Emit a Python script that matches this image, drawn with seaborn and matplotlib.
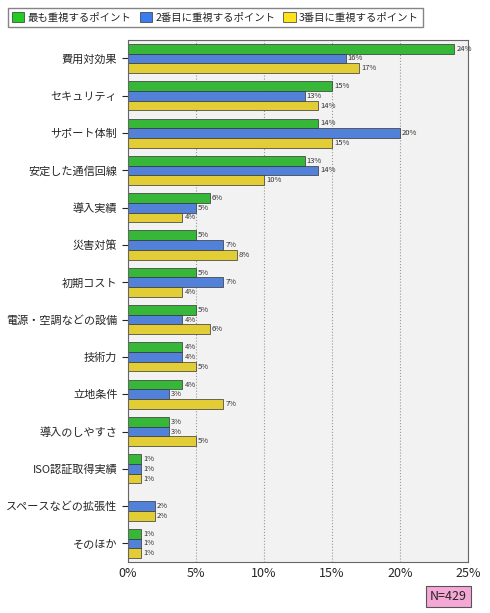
import pandas as pd
import matplotlib.pyplot as plt
import seaborn as sns
from matplotlib.patches import Patch

categories = ["費用対効果", "セキュリティ", "サポート体制", "安定した通信回線", "導入実績",
              "災害対策", "初期コスト", "電源・空調などの設備", "技術力", "立地条件",
              "導入のしやすさ", "ISO認証取得実績", "スペースなどの拡張性", "そのほか"]
first = [24, 15, 14, 13, 6, 5, 5, 5, 4, 4, 3, 1, 0, 1]
second = [16, 13, 20, 14, 5, 7, 7, 4, 4, 3, 3, 1, 2, 1]
third = [17, 14, 15, 10, 4, 8, 4, 6, 5, 7, 5, 1, 2, 1]
series = ["最も重視するポイント", "2番目に重視するポイント", "3番目に重視するポイント"]
colors = ["#22CC22", "#3A7BEF", "#FFE31A"]

rows = []
for name, vals in zip(series, [first, second, third]):
    for c, v in zip(categories, vals):
        rows.append({"cat": c, "series": name, "val": v})
df = pd.DataFrame(rows)

sns.set_style("white")
plt.rcParams["font.family"] = ["Noto Sans CJK JP", "DejaVu Sans"]

fig = plt.figure(figsize=(4.9, 6.13), dpi=100)
ax = fig.add_axes([0.261, 0.083, 0.694, 0.852])
ax.set_facecolor("#F2F2F2")
sns.barplot(data=df, y="cat", x="val", hue="series", palette=colors, orient="h",
            width=0.78, edgecolor="#333333", linewidth=0.5, ax=ax, legend=False)

for cont in ax.containers:
    labels = [f"{int(b.get_width())}%" if b.get_width() > 0 else "" for b in cont]
    ax.bar_label(cont, labels=labels, padding=1.5, fontsize=5.5, color="#333333")

ax.set_xlim(0, 25)
ax.set_xticks([0, 5, 10, 15, 20, 25])
ax.set_xticklabels([f"{t}%" for t in [0, 5, 10, 15, 20, 25]], fontsize=9)
ax.tick_params(axis="y", labelsize=8, length=4, left=True)
ax.tick_params(axis="x", length=0)
ax.set_xlabel("")
ax.set_ylabel("")
ax.xaxis.grid(True, linestyle=":", color="#999999", linewidth=0.8)
ax.set_axisbelow(True)
for s in ax.spines.values():
    s.set_color("#666666")
    s.set_linewidth(0.8)

handles = [Patch(facecolor=c, edgecolor="#333333", linewidth=0.5) for c in colors]
fig.legend(handles, series, loc="upper left", bbox_to_anchor=(0.005, 0.995), ncol=3,
           fontsize=7.5, frameon=True, edgecolor="#666666", fancybox=False,
           handlelength=1.2, handleheight=1.0, columnspacing=0.8, handletextpad=0.3,
           borderpad=0.4)

fig.text(0.915, 0.027, "N=429", fontsize=9, ha="center", va="center",
         bbox=dict(boxstyle="square,pad=0.35", facecolor="#F5A8D6", edgecolor="#555555", linewidth=0.8))

fig.savefig("out.png", dpi=100)
